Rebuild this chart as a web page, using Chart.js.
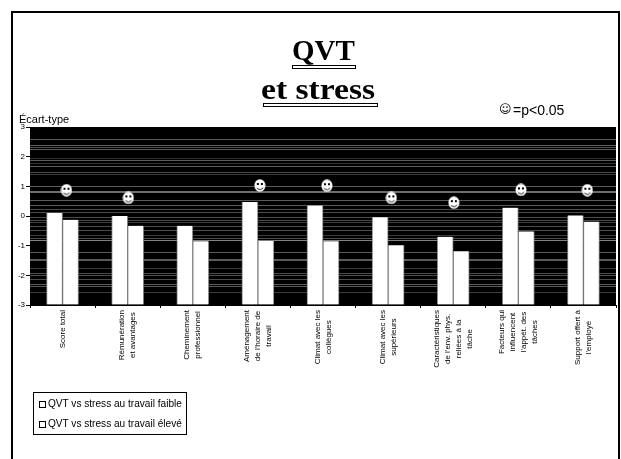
<!DOCTYPE html>
<html lang="fr">
<head>
<meta charset="utf-8">
<title>QVT et stress</title>
<script src="https://cdn.jsdelivr.net/npm/chart.js@4/dist/chart.umd.min.js"></script>
<style>
  html, body { margin: 0; padding: 0; background: #fff; overflow: hidden; }
  body { position: relative; width: 621px; height: 459px; font-family: "Liberation Sans", Arial, sans-serif; color: #000; }
  canvas { position: absolute; left: 0; top: 0; }
  .frame { position: absolute; left: 11px; top: 11px; width: 605px; height: 460px; border: 2px solid #000; }
  .abs { position: absolute; white-space: nowrap; line-height: 1; }
  .title { font-family: "Liberation Serif", serif; font-weight: bold; }
  .rule { position: absolute; height: 2px; background: #fff; border: 1px solid #000; }
  .legend { position: absolute; left: 33px; top: 392px; width: 152px; height: 41px; border: 1px solid #000; background: #fff; }
  .legend div { position: absolute; left: 5px; font-size: 10.1px; line-height: 12px; white-space: nowrap; }
  .legend i { display: inline-block; width: 5px; height: 5px; border: 1px solid #000; margin-right: 2px; vertical-align: -0.5px; }
</style>
</head>
<body>
<canvas id="chart" width="621" height="459"></canvas>
<div class="frame"></div>
<div class="abs title" style="left:292px;top:36px;font-size:29px">QVT</div>
<div class="rule" style="left:292px;top:65px;width:62px"></div>
<div class="abs title" style="left:261px;top:74px;font-size:30px;transform:scaleX(1.12);transform-origin:left top">et stress</div>
<div class="rule" style="left:263px;top:103px;width:113px"></div>
<div class="abs" style="left:499px;top:103px;font-family:'DejaVu Sans';font-size:12px;font-weight:bold">☺</div>
<div class="abs" style="left:513px;top:103px;font-size:14px">=p&lt;0.05</div>
<div class="abs" style="left:19px;top:114px;font-size:11px">Écart-type</div>
<div class="legend" id="legend"></div>

<script>
const categories = [
  ["Score total"],
  ["Rémunération", "et avantages"],
  ["Cheminement", "professionnel"],
  ["Aménagement", "de l'horaire de", "travail"],
  ["Climat avec les", "collègues"],
  ["Climat avec les", "supérieurs"],
  ["Caractéristiques", "de l'env. phys.", "reliées à la", "tâche"],
  ["Facteurs qui", "influencent", "l'appét. des", "tâches"],
  ["Support offert à", "l'employé"]
];
const seriesNames = ["QVT vs stress au travail faible", "QVT vs stress au travail élevé"];
const stressFaible = [0.10, 0.00, -0.33, 0.47, 0.35, -0.04, -0.70, 0.28, 0.02];
const stressEleve = [-0.13, -0.33, -0.85, -0.84, -0.85, -0.99, -1.19, -0.52, -0.19];

// smileys (p<0.05) : position en catégories, pas de smiley sur Cheminement
const smileyX = [0.56, 1.51, 3.53, 4.56, 5.55, 6.51, 7.54, 8.56];
const smileyY = [0.87, 0.61, 1.03, 1.02, 0.61, 0.45, 0.88, 0.87];

// rayures du fond noir
const stripeValues = [2.58, 2.41, 2.34, 2.27, 1.95, 1.90, 1.80, 1.67, 1.50, 1.40, 1.02, 0.84, 0.80, 0.55, 0.38, 0.25, 0.15, -0.02, -0.12, -0.19, -0.33, -0.46, -0.63, -0.73, -0.80, -1.21, -1.44, -1.48, -1.75, -1.92, -1.98, -2.12, -2.29, -2.35, -2.56];
const stripeGrays = [90, 90, 75, 90, 50, 90, 50, 90, 75, 60, 90, 110, 110, 90, 90, 75, 75, 75, 75, 60, 75, 75, 60, 75, 130, 90, 90, 90, 60, 75, 75, 75, 90, 90, 60];

function makeSmiley() {
  const c = document.createElement("canvas");
  c.width = 12;
  c.height = 13;
  const g = c.getContext("2d");
  g.fillStyle = "#fff";
  g.beginPath();
  g.ellipse(6, 6.5, 5.5, 6.2, 0, 0, Math.PI * 2);
  g.fill();
  g.fillStyle = "#000";
  g.fillRect(3, 4, 2, 2);
  g.fillRect(7, 4, 2, 2);
  g.strokeStyle = "#222";
  g.lineWidth = 1;
  g.beginPath();
  g.arc(6, 6.5, 4, 0.2 * Math.PI, 0.8 * Math.PI);
  g.stroke();
  return c;
}

// fond noir + rayures, placées avec l'échelle y
const stripesPlugin = {
  id: "stripes",
  beforeDatasetsDraw(chart) {
    const { ctx, chartArea: a, scales } = chart;
    ctx.save();
    ctx.fillStyle = "#000";
    ctx.fillRect(a.left, a.top, a.width, a.height);
    stripeValues.forEach((v, i) => {
      const y = Math.round(scales.y.getPixelForValue(v)) + 0.5;
      const n = stripeGrays[i];
      ctx.strokeStyle = `rgb(${n},${n},${n})`;
      ctx.lineWidth = 1;
      ctx.beginPath();
      ctx.moveTo(a.left, y);
      ctx.lineTo(a.right, y);
      ctx.stroke();
    });
    ctx.restore();
  }
};

// étiquettes verticales : lignes centrées entre elles (Chart.js les aligne à droite)
const verticalLabels = {
  id: "verticalLabels",
  afterDraw(chart) {
    const { ctx, scales } = chart;
    ctx.save();
    ctx.font = '8px "Liberation Sans"';
    ctx.fillStyle = "#000";
    ctx.textAlign = "center";
    ctx.textBaseline = "middle";
    categories.forEach((lines, i) => {
      const cx = scales.x.getPixelForValue(i);
      const longest = Math.max(...lines.map(l => ctx.measureText(l).width));
      lines.forEach((line, k) => {
        ctx.save();
        ctx.translate(cx + (k - (lines.length - 1) / 2) * 11, 310 + longest / 2);
        ctx.rotate(-Math.PI / 2);
        ctx.fillText(line, 0, 0);
        ctx.restore();
      });
    });
    ctx.restore();
  }
};

document.getElementById("legend").innerHTML = seriesNames
  .map((s, i) => `<div style="top:${i === 0 ? 5 : 25}px"><i></i>${s}</div>`)
  .join("");

Chart.defaults.font.family = '"Liberation Sans", Arial, sans-serif';
Chart.defaults.color = "#000";
Chart.defaults.animation = false;

new Chart(document.getElementById("chart"), {
  data: {
    labels: categories.map(l => l.join(" ")),
    datasets: [
      {
        type: "scatter",
        label: "p<0.05",
        data: smileyX.map((x, i) => ({ x, y: smileyY[i] })),
        xAxisID: "x2",
        pointStyle: makeSmiley(),
        order: 0
      },
      {
        type: "bar",
        label: seriesNames[0],
        data: stressFaible,
        base: -3,
        backgroundColor: "#fff",
        borderColor: "#808080",
        borderWidth: { left: 1, right: 1, top: 0, bottom: 0 },
        barThickness: 16,
        order: 1
      },
      {
        type: "bar",
        label: seriesNames[1],
        data: stressEleve,
        base: -3,
        backgroundColor: "#fff",
        borderColor: "#808080",
        borderWidth: { left: 1, right: 1, top: 0, bottom: 0 },
        barThickness: 16,
        order: 1
      }
    ]
  },
  options: {
    responsive: false,
    layout: { padding: { top: 127, right: 3, left: 0, bottom: 0 } },
    plugins: { legend: { display: false }, tooltip: { enabled: false } },
    scales: {
      x: {
        type: "category",
        afterFit: s => { s.height = 154; },
        ticks: { display: false },
        grid: { drawOnChartArea: false, color: "#000", tickLength: 3 },
        border: { color: "#000" }
      },
      x2: { type: "linear", display: false, min: 0, max: 9 },
      y: {
        min: -3,
        max: 3,
        afterFit: s => { s.width = 30; },
        ticks: { stepSize: 1, font: { size: 8 }, padding: 1, color: "#000" },
        grid: { drawOnChartArea: false, color: "#000", tickLength: 4 },
        border: { color: "#000" }
      }
    }
  },
  plugins: [stripesPlugin, verticalLabels]
});
</script>
</body>
</html>
